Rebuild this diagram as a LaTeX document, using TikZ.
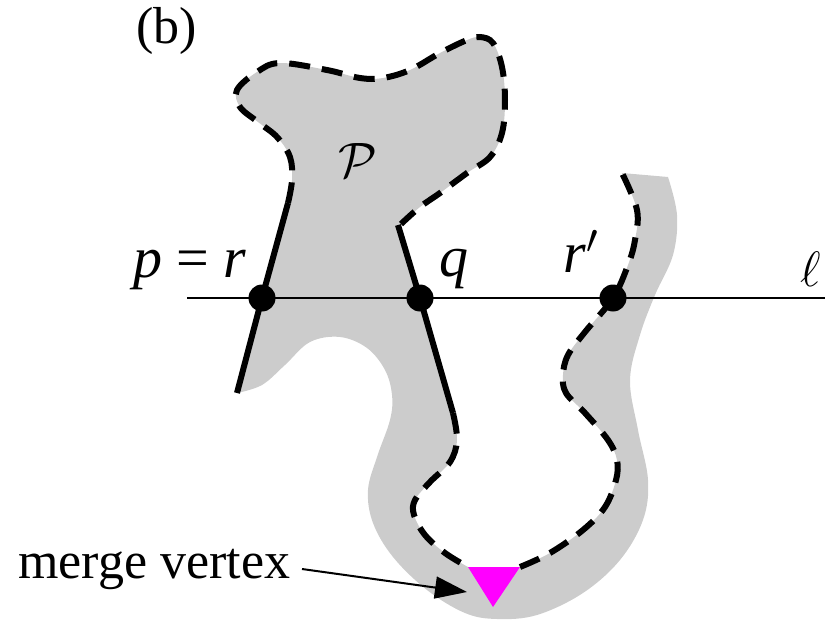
\documentclass[tikz,border=0pt]{standalone}
\usepackage{fontspec}
\setmainfont{Liberation Serif}
\usetikzlibrary{arrows.meta}
\definecolor{mvmag}{RGB}{255,0,255}
\definecolor{regiongray}{RGB}{204,204,204}
\tikzset{
  region/.style={fill=regiongray, draw=none},
  dashedge/.style={draw=black, line width=3pt, dash pattern=on 10.5pt off 6pt},
  solidedge/.style={draw=black, line width=3pt},
  sweepline/.style={draw=black, line width=1pt},
  dot/.style={circle, fill=black, inner sep=0pt, minimum size=13.5pt},
  lbl/.style={font=\fontsize{29}{34}\selectfont, inner sep=0pt},
  txtlbl/.style={font=\fontsize{26}{31}\selectfont, inner sep=0pt},
  mergetri/.style={fill=mvmag, draw=none},
  pointer/.style={draw=black, line width=1pt, -{Triangle[length=16pt,width=11pt]}}
}
\begin{document}
\begin{tikzpicture}[x=0.5pt, y=-0.5pt]
\useasboundingbox (0,0) rectangle (832,621);

% gray polygon
\fill[region] (288,203)
  -- plot[smooth, tension=0.6] coordinates {(288,203) (292,180) (290,157) (277,137) (258,122) (240,107) (237,90) (257,72) (280,63) (327,70) (360,78) (383,78) (410,70) (440,53) (467,40) (480,37) (493,43) (502,67) (505,100) (502,133) (490,157) (467,173) (440,193) (420,207) (401,224)}
  -- (398,225) -- (420,298) -- (453,413)
  -- plot[smooth, tension=0.6] coordinates {(453,413) (457,440) (450,462) (430,482) (415,500) (414,515) (425,535) (445,553) (468,567)}
  -- (494,580) -- (520,567)
  -- plot[smooth, tension=0.6] coordinates {(520,567) (550,553) (583,530) (605,507) (616,480) (617,460) (608,440) (585,413) (566,393) (563,375) (568,355) (585,332) (613,298) (628,265) (635,240) (637,210) (622,173)}
  -- (668,177)
  -- plot[smooth, tension=0.6] coordinates {(668,177) (677,215) (673,255) (655,295) (640,335) (630,380) (638,430) (648,480) (643,520) (620,560) (583,593) (537,615) (497,619) (465,613) (427,590) (393,557) (373,523) (368,490) (377,457) (390,420) (392,395) (385,370) (367,348) (340,337) (310,342) (285,365) (262,385) (237,393)}
  -- cycle;

% sweep line
\coordinate (l0) at (187,298);
\coordinate (l1) at (825,298);
\draw[sweepline] (l0) -- (l1);

% solid edges
\coordinate (a1) at (288,203);
\coordinate (a2) at (237,393);
\coordinate (b1) at (398,225);
\coordinate (b2) at (453,413);
\coordinate (pc) at (262,298);
\coordinate (qc) at (420,298);
\draw[solidedge] (a1) -- (pc) -- (a2);
\draw[solidedge] (b1) -- (qc) -- (b2);

% dashed boundaries
\draw[dashedge] plot[smooth, tension=0.6] coordinates {(288,203) (292,180) (290,157) (277,137) (258,122) (240,107) (237,90) (257,72) (280,63) (327,70) (360,78) (383,78) (410,70) (440,53) (467,40) (480,37) (493,43) (502,67) (505,100) (502,133) (490,157) (467,173) (440,193) (420,207) (401,224)};
\draw[dashedge] plot[smooth, tension=0.6] coordinates {(453,413) (457,440) (450,462) (430,482) (415,500) (414,515) (425,535) (445,553) (468,567)};
\draw[dashedge] plot[smooth, tension=0.6] coordinates {(520,567) (550,553) (583,530) (605,507) (616,480) (617,460) (608,440) (585,413) (566,393) (563,375) (568,355) (585,332) (613,298) (628,265) (635,240) (637,210) (622,173)};

% vertices on the line
\node[dot] (p) at (pc) {};
\node[dot] (q) at (qc) {};
\node[dot] (rp) at (613,298) {};

% merge vertex
\coordinate (m1) at (468,567);
\coordinate (m2) at (520,567);
\coordinate (m3) at (493,607);
\fill[mergetri] (m1) -- (m2) -- (m3) -- cycle;

% labels
\node[txtlbl, anchor=base] (lb) at (167,44) {(b)};
\node[lbl, anchor=base] (lpr) at (190,277) {\textit{p} = \textit{r}};
\node[lbl, anchor=base] (lq) at (454,276) {\textit{q}};
\node[lbl, anchor=base] (lrp) at (581,272) {\textit{r}$'$};
\node[lbl, anchor=base] (lell) at (811,286) {$\ell$};
\node[lbl] (lP) at (358,160) {$\mathcal{P}$};
\node[txtlbl, anchor=base west] (lmv) at (18,578) {merge vertex};
\coordinate (tail) at (302,569);
\coordinate (tip) at (467,592);
\draw[pointer] (tail) -- (tip);
\end{tikzpicture}
\end{document}
